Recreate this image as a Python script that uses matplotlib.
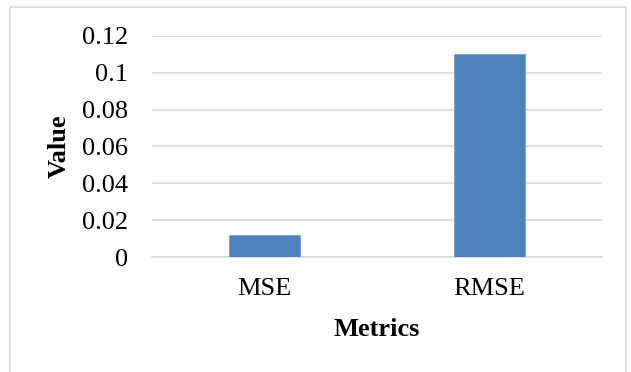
import matplotlib
matplotlib.use("Agg")
import matplotlib.pyplot as plt
from matplotlib.patches import Rectangle

categories = ["MSE", "RMSE"]
values = [0.012, 0.11]
yticks = [0, 0.02, 0.04, 0.06, 0.08, 0.1, 0.12]
ytick_labels = ["0", "0.02", "0.04", "0.06", "0.08", "0.1", "0.12"]

plt.rcParams['font.family'] = ['Liberation Serif', 'DejaVu Serif']
W, H = 631, 372
fig = plt.figure(figsize=(W / 100, H / 100), dpi=100)
ax = fig.add_axes([152 / W, 115 / H, 450 / W, (257 - 36) / H])

x = list(range(len(categories)))
ax.bar(x, values, width=0.315, color="#4F81BD", edgecolor="#7EA1D0", linewidth=0.6, zorder=3)
ax.set_xlim(-0.5, len(categories) - 0.5)
ax.set_ylim(0, 0.12)
ax.set_yticks(yticks)
ax.set_yticklabels(ytick_labels)
ax.set_xticks(x)
ax.set_xticklabels(categories)
ax.tick_params(axis='both', length=0, labelsize=19, colors='black')
ax.tick_params(axis='y', pad=17)
ax.tick_params(axis='x', pad=15)
ax.grid(axis='y', color='#D9D9D9', linewidth=1.2, zorder=0)
ax.set_axisbelow(True)
for s in ['top', 'right', 'left']:
    ax.spines[s].set_visible(False)
ax.spines['bottom'].set_color('#D9D9D9')
ax.spines['bottom'].set_linewidth(1.2)
ax.set_xlabel("Metrics", fontsize=19, fontweight='bold', labelpad=13)
ax.set_ylabel("Value", fontsize=19, fontweight='bold', labelpad=8)

fig.patches.append(Rectangle((10 / W, -0.1), (626 - 10) / W, (372 - 7) / H + 0.1,
                             transform=fig.transFigure, fill=False,
                             edgecolor='#D9D9D9', linewidth=1.2))
fig.savefig("out.png", dpi=100)
